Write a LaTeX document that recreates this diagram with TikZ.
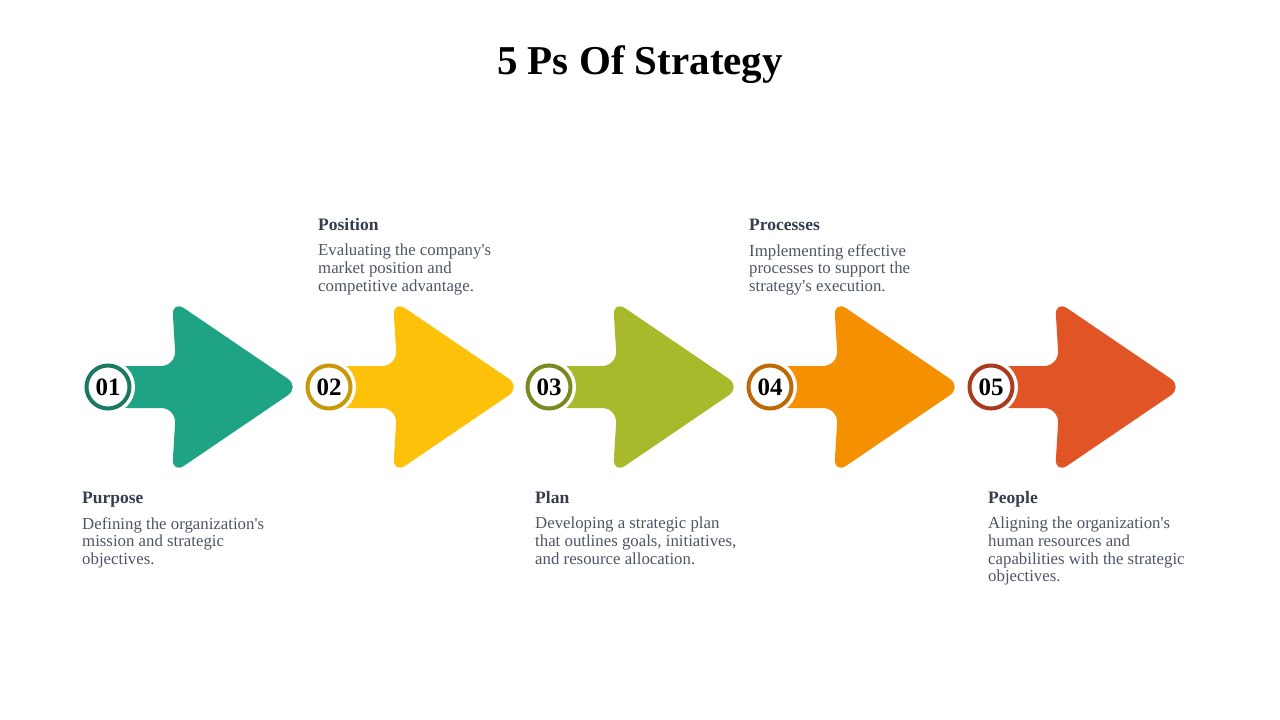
\documentclass[tikz,border=0pt]{standalone}
\usepackage{fontspec}
\setmainfont{Liberation Serif}[Ligatures=TeXOff]
\definecolor{cA}{HTML}{1FA385}\definecolor{rA}{HTML}{1B7862}
\definecolor{cB}{HTML}{FDC10A}\definecolor{rB}{HTML}{C8970A}
\definecolor{cC}{HTML}{A8B92B}\definecolor{rC}{HTML}{7B8A1E}
\definecolor{cD}{HTML}{F59000}\definecolor{rD}{HTML}{BD6A05}
\definecolor{cE}{HTML}{E05426}\definecolor{rE}{HTML}{A83C1C}
\definecolor{headc}{HTML}{363D4E}
\definecolor{bodyc}{HTML}{4E5566}
\tikzset{
  headtxt/.style={anchor=base west,inner sep=0pt,text=headc,font=\fontsize{17.5}{20}\selectfont\bfseries},
  bodytxt/.style={anchor=north west,inner sep=0pt,text=bodyc,align=left,font=\fontsize{16.8}{17.7}\selectfont},
  numtxt/.style={font=\fontsize{25}{27}\selectfont\bfseries,text=black,inner sep=0pt},
}
\newcommand{\parrow}[4]{% #1 cx, #2 fill, #3 ring, #4 number
  \fill[#2,rounded corners=15pt] (#1+5,366) -- (#1+68,366) -- (#1+64,300) -- (#1+192,387) -- (#1+64,474) -- (#1+68,408) -- (#1+5,408) -- cycle;
  \fill[white] (#1,387) circle (27);
  \draw[#3,line width=4pt,fill=white] (#1,387) circle (21.5);
  \node[numtxt] (n#4) at (#1,387) {0#4};
}
\begin{document}
\begin{tikzpicture}[x=1pt,y=-1pt]
\useasboundingbox[fill=white] (0,0) rectangle (1280,720);
\node[anchor=base,inner sep=0pt,font=\fontsize{41}{44}\selectfont\bfseries] (title) at (640,74) {5 Ps Of Strategy};
\parrow{108}{cA}{rA}{1}
\parrow{329}{cB}{rB}{2}
\parrow{549}{cC}{rC}{3}
\parrow{770}{cD}{rD}{4}
\parrow{991}{cE}{rE}{5}
% bottom labels
\node[headtxt] (h1) at (82,503) {Purpose};
\node[bodytxt] (b1) at (82,517) {Defining the organization's\\mission and strategic\\objectives.};
\node[headtxt] (h3) at (535,503) {Plan};
\node[bodytxt] (b3) at (535,517) {Developing a strategic plan\\that outlines goals, initiatives,\\and resource allocation.};
\node[headtxt] (h5) at (988,503) {People};
\node[bodytxt] (b5) at (988,517) {Aligning the organization's\\human resources and\\capabilities with the strategic\\objectives.};
% top labels
\node[headtxt] (h2) at (318,230) {Position};
\node[bodytxt] (b2) at (318,244) {Evaluating the company's\\market position and\\competitive advantage.};
\node[headtxt] (h4) at (749,230) {Processes};
\node[bodytxt] (b4) at (749,244) {Implementing effective\\processes to support the\\strategy's execution.};
\end{tikzpicture}
\end{document}
